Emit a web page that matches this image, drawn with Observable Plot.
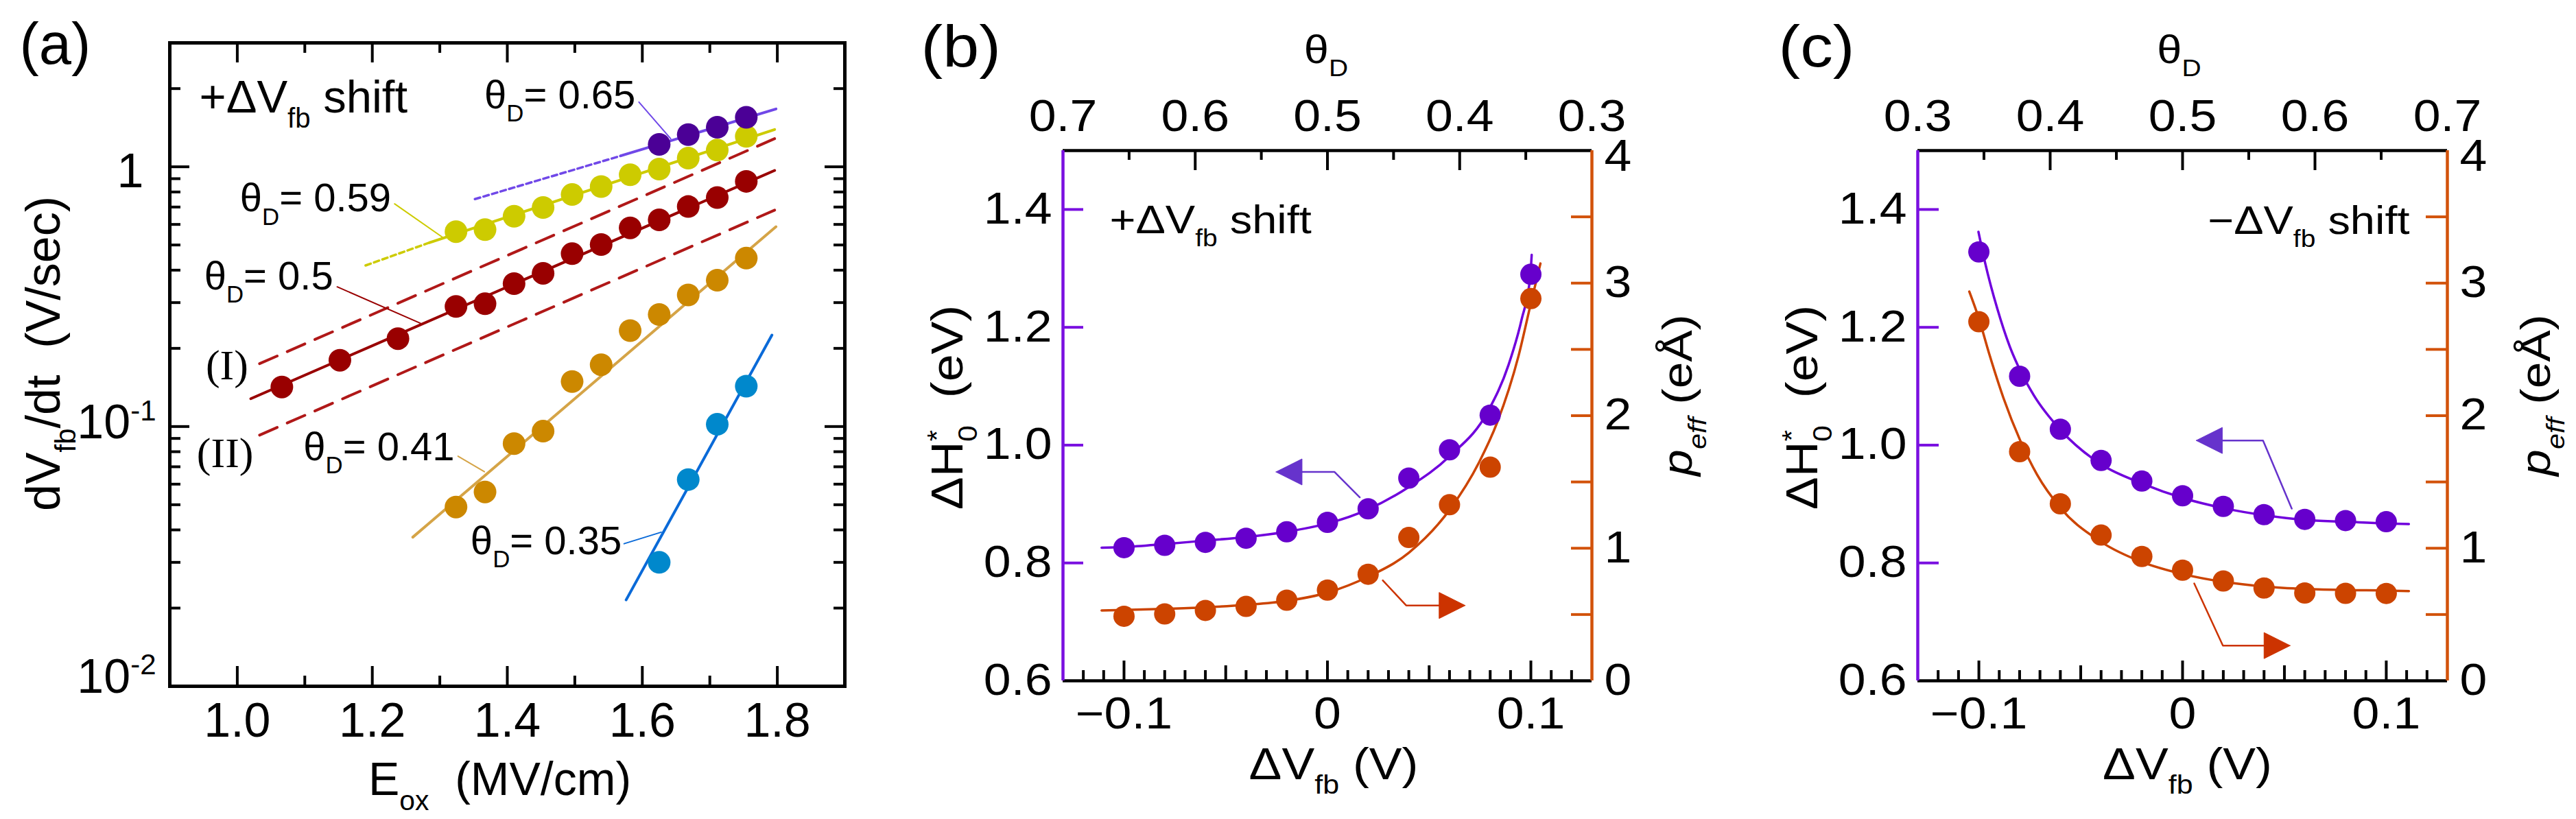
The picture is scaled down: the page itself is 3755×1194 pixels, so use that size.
<!DOCTYPE html>
<html>
<head>
<meta charset="utf-8">
<script src="https://cdn.jsdelivr.net/npm/d3@7"></script>
<script src="https://cdn.jsdelivr.net/npm/@observablehq/plot@0.6"></script>
<style>
  body { margin: 0; background: #fff; }
  #fig { position: relative; width: 3755px; height: 1194px; overflow: hidden; }
  #fig svg { position: absolute; top: 0; }
</style>
</head>
<body>
<div id="fig"></div>
<script>
const FONT = "'Liberation Sans', Arial, Helvetica, sans-serif";
const SERIF = "'Liberation Serif', 'Times New Roman', serif";

// ---------- (a) dVfb/dt vs Eox ----------
const eOx14 = [1.066, 1.152, 1.238, 1.324, 1.367, 1.410, 1.453, 1.496, 1.539, 1.582, 1.625, 1.668, 1.711, 1.754];
const eOx11 = [1.324, 1.367, 1.410, 1.453, 1.496, 1.539, 1.582, 1.625, 1.668, 1.711, 1.754];
const eOx4 = [1.625, 1.668, 1.711, 1.754];
const rate065 = [1.22, 1.33, 1.42, 1.55];
const rate059 = [0.563, 0.573, 0.645, 0.697, 0.782, 0.839, 0.932, 0.980, 1.080, 1.160, 1.310];
const rate050 = [0.142, 0.180, 0.218, 0.290, 0.297, 0.355, 0.389, 0.463, 0.502, 0.582, 0.625, 0.703, 0.761, 0.879];
const rate041 = [0.049, 0.056, 0.086, 0.096, 0.149, 0.173, 0.234, 0.270, 0.321, 0.366, 0.445];
const rate035 = [0.030, 0.0625, 0.102, 0.143];

// fitted lines, end points [Eox, rate]
const fit065Dot = [[1.352, 0.751], [1.568, 1.102]];
const fit065 = [[1.568, 1.102], [1.798, 1.67]];
const fit059Dot = [[1.19, 0.417], [1.285, 0.511]];
const fit059 = [[1.285, 0.511], [1.796, 1.392]];
const fit050 = [[1.02, 0.128], [1.796, 0.968]];
const boundI = [[1.033, 0.1746], [1.796, 1.283]];
const boundII = [[1.033, 0.0927], [1.796, 0.681]];
const fit041 = [[1.26, 0.0375], [1.798, 0.588]];
const fit035 = [[1.576, 0.0215], [1.792, 0.225]];

// labels and their leader lines (data coordinates)
const labelsA = [
  {E: 1.366, v: 1.683, t: "θ_{D}= 0.65"},
  {E: 1.004, v: 0.6725, t: "θ_{D}= 0.59"},
  {E: 0.951, v: 0.337, t: "θ_{D}= 0.5"},
  {E: 1.098, v: 0.0741, t: "θ_{D}= 0.41"},
  {E: 1.3455, v: 0.03224, t: "θ_{D}= 0.35"}
];
const lead065 = [[1.595, 1.775], [1.642, 1.283]];
const lead059 = [[1.233, 0.720], [1.306, 0.531]];
const lead050 = [[1.148, 0.345], [1.271, 0.250]];
const lead041 = [[1.327, 0.0769], [1.366, 0.067]];
const lead035 = [[1.573, 0.0354], [1.628, 0.0392]];

// ---------- (b) and (c) ----------
const dvPts = [-0.1, -0.08, -0.06, -0.04, -0.02, 0, 0.02, 0.04, 0.06, 0.08, 0.1];
const dhB = [0.826, 0.830, 0.835, 0.842, 0.853, 0.869, 0.892, 0.944, 0.992, 1.051, 1.290];
const pB = [0.487, 0.504, 0.531, 0.561, 0.608, 0.684, 0.804, 1.081, 1.328, 1.612, 2.883];
const dhC = [1.328, 1.117, 1.027, 0.974, 0.939, 0.914, 0.896, 0.882, 0.874, 0.872, 0.870];
const pC = [2.709, 1.728, 1.335, 1.099, 0.938, 0.834, 0.753, 0.700, 0.662, 0.660, 0.659];

// fitted curves
const fitDhBx = [-0.111, -0.100, -0.080, -0.060, -0.040, -0.020, 0.000, 0.020, 0.040, 0.060, 0.079, 0.089, 0.0955, 0.0997, 0.1004];
const fitDhB = [0.826, 0.827, 0.832, 0.838, 0.844, 0.853, 0.867, 0.891, 0.929, 0.981, 1.058, 1.136, 1.214, 1.287, 1.323];
const fitPBx = [-0.111, -0.100, -0.080, -0.060, -0.040, -0.020, 0.000, 0.020, 0.040, 0.060, 0.0745, 0.0834, 0.094, 0.100, 0.1047];
const fitPB = [0.531, 0.534, 0.543, 0.554, 0.573, 0.603, 0.665, 0.785, 0.966, 1.289, 1.647, 1.947, 2.455, 2.848, 3.148];
const fitDhCx = [-0.1002, -0.0969, -0.0909, -0.0849, -0.0796, -0.0729, -0.0597, -0.0398, -0.0199, 0.0004, 0.0202, 0.0402, 0.060, 0.080, 0.1001, 0.1111];
const fitDhC = [1.362, 1.309, 1.231, 1.168, 1.126, 1.084, 1.025, 0.967, 0.935, 0.910, 0.893, 0.881, 0.873, 0.870, 0.867, 0.866];
const fitPCx = [-0.1047, -0.1000, -0.0947, -0.0879, -0.0796, -0.0714, -0.0597, -0.0398, -0.0199, 0.0004, 0.0202, 0.0402, 0.060, 0.080, 0.1001, 0.1111];
const fitPC = [2.936, 2.733, 2.455, 2.132, 1.809, 1.554, 1.300, 1.046, 0.896, 0.804, 0.746, 0.711, 0.693, 0.684, 0.681, 0.677];

const thetaMajor = [0.6, 0.5, 0.4];
const thetaMinor = [0.65, 0.55, 0.45, 0.35];
const thetaLabels = [0.7, 0.6, 0.5, 0.4, 0.3];
const dhTicks = [0.6, 0.8, 1.0, 1.2, 1.4];
const pTicks = [0, 1, 2, 3];
const pTop = [4];

// p_eff (0..4) drawn on the same y scale as ΔH (0.6..1.5)
const toLeft = p => 0.6 + p * 0.225;

// ---------- helpers ----------
const seg = (pts, o) => Plot.line(pts, {x: d => d[0], y: d => d[1], ...o});

function edgeTicks(dim, vals, len, side, W, H, stroke, sw) {
  if (dim === "x") return Plot.tickX(vals, {x: d => d, stroke, strokeWidth: sw, [side === "bottom" ? "insetTop" : "insetBottom"]: H - len});
  return Plot.tickY(vals, {y: d => d, stroke, strokeWidth: sw, [side === "left" ? "insetRight" : "insetLeft"]: W - len});
}

// _{} sub, ~{} italic sub, ^{} sup, !{} sub stacked under previous sup, ${} italic
function rich(svg) {
  d3.select(svg).selectAll("text").each(function () {
    const s = this.textContent;
    if (!/[_^~!$]\{/.test(s)) return;
    const parts = s.split(/([_^~!$]\{[^}]*\})/).filter(d => d !== "");
    this.textContent = "";
    let shift = 0;
    for (const part of parts) {
      const m = part.match(/^([_^~!$])\{([^}]*)\}$/);
      const kind = m ? m[1] : "";
      const small = "_^~!".includes(kind) && kind !== "";
      const size = small ? 0.6 : 1;
      const target = kind === "^" ? -0.38 : small ? 0.33 : 0;
      const ts = d3.select(this).append("tspan").text(m ? m[2] : part);
      if (small) ts.attr("font-size", "60%");
      if (kind === "~" || kind === "$") ts.attr("font-style", "italic");
      if (kind === "!") ts.attr("dx", "-0.4em");
      const d = (target - shift) / size;
      if (d) ts.attr("dy", `${+d.toFixed(3)}em`);
      shift = target;
    }
  });
}

function stretch(svg, k) {
  d3.select(svg).selectAll("text").each(function () {
    const tr = this.getAttribute("transform") || "";
    const x = this.getAttribute("x");
    let pre = "";
    if (x && !/em$/.test(x)) { pre = ` translate(${x},0)`; this.removeAttribute("x"); }
    this.setAttribute("transform", `${tr}${pre} scale(${k},1)`);
  });
}

// ---------- panel (a) ----------
const WA = 984, HA = 938;
const violetDot = "#4b0096", violetLine = "#7048e8", yellow = "#cdcb00", maroon = "#990000",
      maroonDash = "#b01818", ochre = "#cc8800", ochreLine = "#d5a447", cyan = "#0088cc", blueLine = "#0a6ad8";

const panelA = Plot.plot({
  width: 1250, height: 1194,
  marginLeft: 247, marginRight: 19, marginTop: 62, marginBottom: 194,
  x: {domain: [0.9, 1.9]},
  y: {type: "log", domain: [0.01, 3]},
  style: {fontFamily: FONT, color: "black", background: "none", overflow: "visible"},
  marks: [
    seg(boundI, {stroke: maroonDash, strokeWidth: 4, strokeDasharray: "28,16"}),
    seg(boundII, {stroke: maroonDash, strokeWidth: 4, strokeDasharray: "28,16"}),
    seg(fit065Dot, {stroke: violetLine, strokeWidth: 3.5, strokeDasharray: "8,5"}),
    seg(fit065, {stroke: violetLine, strokeWidth: 4}),
    seg(fit059Dot, {stroke: yellow, strokeWidth: 3.5, strokeDasharray: "8,5"}),
    seg(fit059, {stroke: yellow, strokeWidth: 4}),
    seg(fit050, {stroke: maroon, strokeWidth: 4}),
    seg(fit041, {stroke: ochreLine, strokeWidth: 4}),
    seg(fit035, {stroke: blueLine, strokeWidth: 4}),
    seg(lead065, {stroke: violetLine, strokeWidth: 2}),
    seg(lead059, {stroke: yellow, strokeWidth: 2}),
    seg(lead050, {stroke: maroon, strokeWidth: 2}),
    seg(lead041, {stroke: ochreLine, strokeWidth: 2}),
    seg(lead035, {stroke: blueLine, strokeWidth: 2}),
    Plot.dot(rate050, {x: (d, i) => eOx14[i], y: d => d, r: 16.5, fill: maroon}),
    Plot.dot(rate059, {x: (d, i) => eOx11[i], y: d => d, r: 16.5, fill: yellow}),
    Plot.dot(rate065, {x: (d, i) => eOx4[i], y: d => d, r: 16.5, fill: violetDot}),
    Plot.dot(rate041, {x: (d, i) => eOx11[i], y: d => d, r: 16.5, fill: ochre}),
    Plot.dot(rate035, {x: (d, i) => eOx4[i], y: d => d, r: 16.5, fill: cyan}),
    Plot.text(labelsA, {x: "E", y: "v", text: "t", textAnchor: "start", lineAnchor: "bottom", fontSize: 58}),
    Plot.text([{E: 0.9533, v: 0.1518, t: "(I)"}, {E: 0.94, v: 0.0698, t: "(II)"}],
      {x: "E", y: "v", text: "t", textAnchor: "start", lineAnchor: "bottom", fontSize: 62, fontFamily: SERIF}),
    Plot.text(["+ΔV_{fb}\u00a0shift"], {text: d => d, frameAnchor: "top-left", dx: 43, dy: 101, textAnchor: "start", lineAnchor: "bottom", fontSize: 67}),
    // ticks, inward on all four sides
    edgeTicks("x", [1.0, 1.2, 1.4, 1.6, 1.8], 29, "bottom", WA, HA, "black", 4),
    edgeTicks("x", [1.1, 1.3, 1.5, 1.7], 15, "bottom", WA, HA, "black", 4),
    edgeTicks("x", [1.0, 1.2, 1.4, 1.6, 1.8], 29, "top", WA, HA, "black", 4),
    edgeTicks("x", [1.1, 1.3, 1.5, 1.7], 15, "top", WA, HA, "black", 4),
    edgeTicks("y", [0.1, 1], 29, "left", WA, HA, "black", 4),
    edgeTicks("y", [0.02, 0.03, 0.04, 0.05, 0.06, 0.07, 0.08, 0.09, 0.2, 0.3, 0.4, 0.5, 0.6, 0.7, 0.8, 0.9, 2], 16, "left", WA, HA, "black", 4),
    edgeTicks("y", [0.1, 1], 29, "right", WA, HA, "black", 4),
    edgeTicks("y", [0.02, 0.03, 0.04, 0.05, 0.06, 0.07, 0.08, 0.09, 0.2, 0.3, 0.4, 0.5, 0.6, 0.7, 0.8, 0.9, 2], 16, "right", WA, HA, "black", 4),
    Plot.frame({stroke: "black", strokeWidth: 5}),
    Plot.axisX({ticks: [1.0, 1.2, 1.4, 1.6, 1.8], tickSize: 0, tickPadding: 24, fontSize: 70, tickFormat: d3.format(".1f"), label: null}),
    Plot.axisY({ticks: [1], tickSize: 0, tickPadding: 38, dy: 7, fontSize: 70, tickFormat: () => "1", label: null}),
    Plot.axisY({ticks: [0.1], tickSize: 0, tickPadding: 20, dy: -5, fontSize: 70, tickFormat: () => "10^{-1}", label: null}),
    Plot.axisY({ticks: [0.01], tickSize: 0, tickPadding: 20, dy: -13, fontSize: 70, tickFormat: () => "10^{-2}", label: null}),
    Plot.text(["E_{ox}\u00a0\u00a0(MV/cm)"], {text: d => d, frameAnchor: "bottom", dx: -11, dy: 158, textAnchor: "middle", lineAnchor: "bottom", fontSize: 68}),
    Plot.text(["dV_{fb}/dt\u00a0\u00a0(V/sec)"], {text: d => d, frameAnchor: "left", rotate: -90, dx: -183, dy: -16, textAnchor: "middle", lineAnchor: "middle", fontSize: 70}),
    Plot.text(["(a)"], {text: d => d, frameAnchor: "top-left", dx: -219, dy: 30, textAnchor: "start", lineAnchor: "bottom", fontSize: 85})
  ]
});
rich(panelA);
panelA.style.left = "0px";

// ---------- panels (b), (c) ----------
const purple = "#6600cc", purpleLine = "#7000dd", purpleAxis = "#7a10e0", purpleArrow = "#6633cc";
const orange = "#cc4400", orangeAxis = "#d2520a", orangeArrow = "#cc3300";
const WB = 771, HB = 773;

function panelBC({left, width, marginLeft, marginRight, dh, p, fDhX, fDh, fPX, fP, dir, arrows, shift, letter, titles}) {
  const dvOfTheta = t => dir * (t - 0.5) * 0.65;
  const fmtDv = d => d === 0 ? "0" : (d < 0 ? "−" : "") + Math.abs(d).toFixed(1);
  const fmtP = d => String(Math.round((d - 0.6) / 0.225));
  const arrowMarks = arrows.flatMap(a => {
    const [tx, ty] = a.tip, bx = tx - a.dir * 0.0128, h = 0.0221;
    return [
      seg(a.path, {stroke: a.color, strokeWidth: 2.5}),
      seg([[tx, ty], [bx, ty + h], [bx, ty - h], [tx, ty]], {stroke: a.color, fill: a.color, strokeWidth: 1})
    ];
  });
  const svg = Plot.plot({
    width, height: 1194,
    marginLeft, marginRight, marginTop: 219, marginBottom: 202,
    x: {domain: [-0.13, 0.13]},
    y: {domain: [0.6, 1.5]},
    style: {fontFamily: FONT, color: "black", background: "none", overflow: "visible"},
    marks: [
      Plot.line(fP, {x: (d, i) => fPX[i], y: d => toLeft(d), stroke: orange, strokeWidth: 3.5, curve: "monotone-x"}),
      Plot.line(fDh, {x: (d, i) => fDhX[i], y: d => d, stroke: purpleLine, strokeWidth: 3.5, curve: "monotone-x"}),
      Plot.dot(p, {x: (d, i) => dvPts[i], y: d => toLeft(d), r: 15.5, fill: orange}),
      Plot.dot(dh, {x: (d, i) => dvPts[i], y: d => d, r: 15.5, fill: purple}),
      ...arrowMarks,
      // ticks
      edgeTicks("x", [-0.1, 0, 0.1], 29, "bottom", WB, HB, "black", 4),
      edgeTicks("x", [-0.05, 0.05], 22, "bottom", WB, HB, "black", 4),
      edgeTicks("x", d3.range(-12, 13).filter(i => i % 5).map(i => i / 100), 15, "bottom", WB, HB, "black", 4),
      edgeTicks("x", thetaMajor.map(dvOfTheta), 29, "top", WB, HB, "black", 4),
      edgeTicks("x", thetaMinor.map(dvOfTheta), 14, "top", WB, HB, "black", 4),
      edgeTicks("y", [0.8, 1.0, 1.2, 1.4], 30, "left", WB, HB, purpleAxis, 4),
      edgeTicks("y", [0.5, 1, 1.5, 2, 2.5, 3, 3.5].map(toLeft), 30, "right", WB, HB, orangeAxis, 4),
      // frame
      Plot.ruleY([0.6, 1.5], {stroke: "black", strokeWidth: 4.5}),
      Plot.ruleX([-0.13], {stroke: purpleAxis, strokeWidth: 4.5}),
      Plot.ruleX([0.13], {stroke: orangeAxis, strokeWidth: 4.5}),
      // tick labels
      Plot.axisX({ticks: [-0.1, 0, 0.1], tickSize: 0, tickPadding: 24, fontSize: 64, tickFormat: fmtDv, label: null}),
      Plot.axisX({anchor: "top", ticks: thetaLabels.map(dvOfTheta), tickSize: 0, tickPadding: 29, fontSize: 64,
        tickFormat: d => (0.5 + dir * d / 0.65).toFixed(1), label: null}),
      Plot.axisY({ticks: dhTicks, tickSize: 0, tickPadding: 16, fontSize: 64, tickFormat: d3.format(".1f"), label: null}),
      Plot.axisY({anchor: "right", ticks: pTicks.map(toLeft), tickSize: 0, tickPadding: 18, fontSize: 64, tickFormat: fmtP, label: null}),
      Plot.axisY({anchor: "right", ticks: pTop.map(toLeft), tickSize: 0, tickPadding: 18, dy: 9, fontSize: 64, tickFormat: fmtP, label: null}),
      // titles
      Plot.text([shift.t], {text: d => d, frameAnchor: shift.anchor, dx: shift.dx, dy: shift.dy, textAnchor: shift.align, lineAnchor: "bottom", fontSize: 58}),
      Plot.text(["ΔV_{fb}\u00a0(V)"], {text: d => d, frameAnchor: "bottom", dx: titles.bx, dy: 143, textAnchor: "middle", lineAnchor: "bottom", fontSize: 64}),
      Plot.text(["θ_{D}"], {text: d => d, frameAnchor: "top", dx: titles.tx, dy: -128, textAnchor: "middle", lineAnchor: "bottom", fontSize: 58}),
      Plot.text(["ΔH^{*}!{0}\u00a0\u00a0(eV)"], {text: d => d, frameAnchor: "left", rotate: -90, dx: -167, dy: -12, textAnchor: "middle", lineAnchor: "middle", fontSize: 64}),
      Plot.text(["${p}~{eff}\u00a0(eÅ)"], {text: d => d, frameAnchor: "right", rotate: -90, dx: titles.rx, dy: -30, textAnchor: "middle", lineAnchor: "middle", fontSize: 62}),
      Plot.text([letter.t], {text: d => d, frameAnchor: "top-left", dx: letter.dx, dy: -123, textAnchor: "start", lineAnchor: "bottom", fontSize: 85})
    ]
  });
  rich(svg);
  stretch(svg, 1.12);
  svg.style.left = `${left}px`;
  return svg;
}

const panelB = panelBC({
  left: 1250, width: 1250, marginLeft: 299, marginRight: 180,
  dh: dhB, p: pB, fDhX: fitDhBx, fDh: fitDhB, fPX: fitPBx, fP: fitPB, dir: -1,
  arrows: [
    {color: purpleArrow, path: [[0.0159, 0.9114], [0.0035, 0.9545], [-0.0125, 0.9545]], tip: [-0.0253, 0.9545], dir: -1},
    {color: orangeArrow, path: [[0.0272, toLeft(0.7576)], [0.0387, toLeft(0.5682)], [0.0549, toLeft(0.5682)]], tip: [0.0677, toLeft(0.5682)], dir: 1}
  ],
  shift: {t: "+ΔV_{fb}\u00a0shift", anchor: "top-left", dx: 68, dy: 120, align: "start"},
  letter: {t: "(b)", dx: -207},
  titles: {bx: 9, tx: -2, rx: 126}
});

const panelC = panelBC({
  left: 2500, width: 1255, marginLeft: 295, marginRight: 188,
  dh: dhC, p: pC, fDhX: fitDhCx, fDh: fitDhC, fPX: fitPCx, fP: fitPC, dir: 1,
  arrows: [
    {color: purpleArrow, path: [[0.0536, 0.8922], [0.0395, 1.0079], [0.0195, 1.0079]], tip: [0.0067, 1.0079], dir: -1},
    {color: orangeArrow, path: [[0.0057, toLeft(0.7343)], [0.0198, toLeft(0.2655)], [0.0400, toLeft(0.2655)]], tip: [0.0528, toLeft(0.2655)], dir: 1}
  ],
  shift: {t: "−ΔV_{fb}\u00a0shift", anchor: "top-right", dx: -55, dy: 121, align: "end"},
  letter: {t: "(c)", dx: -203},
  titles: {bx: 7, tx: -5, rx: 130}
});

const fig = document.getElementById("fig");
fig.append(panelA, panelB, panelC);
</script>
</body>
</html>
